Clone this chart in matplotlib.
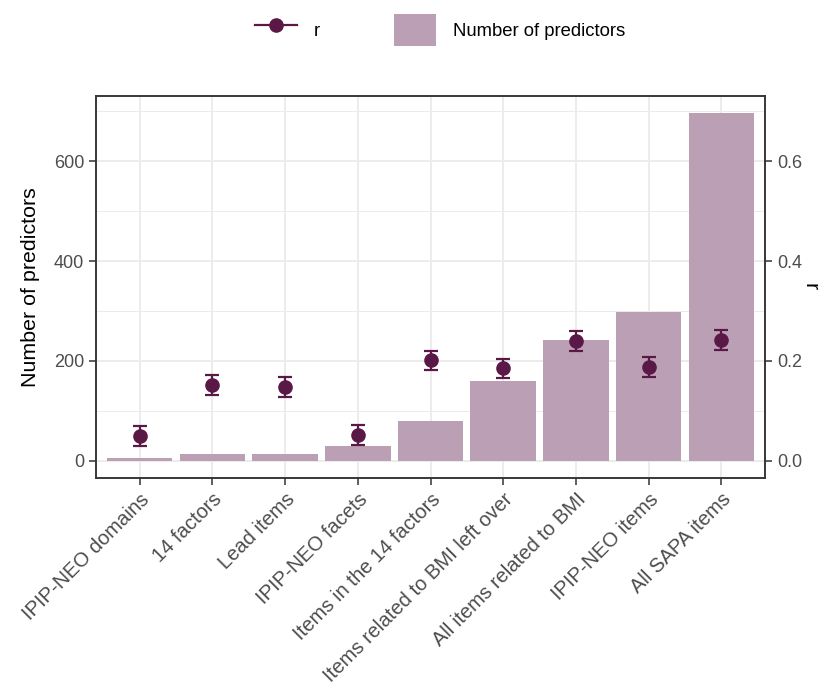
import numpy as np
import matplotlib
matplotlib.use("Agg")
import matplotlib.pyplot as plt
from matplotlib.lines import Line2D
from matplotlib.patches import Patch
from matplotlib.ticker import MultipleLocator, FormatStrFormatter

plt.rcParams['font.family'] = ['Liberation Sans', 'DejaVu Sans']

# data
labels = ['IPIP-NEO domains', '14 factors', 'Lead items', 'IPIP-NEO facets',
          'Items in the 14 factors', 'Items related to BMI left over',
          'All items related to BMI', 'IPIP-NEO items', 'All SAPA items']
n_pred = [5, 14, 14, 30, 80, 159, 242, 298, 696]
r_val = [0.050, 0.152, 0.148, 0.051, 0.201, 0.185, 0.240, 0.188, 0.242]
r_lo = [0.030, 0.132, 0.128, 0.031, 0.182, 0.165, 0.220, 0.168, 0.222]
r_hi = [0.070, 0.171, 0.168, 0.071, 0.220, 0.204, 0.259, 0.207, 0.261]

bar_col = '#BBA0B5'
pt_col = '#5A1846'
grid_col = '#EBEBEB'
txt_col = '#4D4D4D'

fig = plt.figure(figsize=(8.25, 6.92), dpi=100)
W = 765 - 96
ax = fig.add_axes([96/825, 1-478/692, W/825, (478-96)/692])
x = np.arange(len(labels))

ax.bar(x, n_pred, width=0.9, color=bar_col, zorder=2)

ymax = max(n_pred)
ax.set_ylim(-0.05*ymax, 1.05*ymax)
ax.set_xlim(-0.6, len(labels) - 0.4)
ax.yaxis.set_major_locator(MultipleLocator(200))
ax.yaxis.set_minor_locator(MultipleLocator(100))
ax.grid(True, which='major', color=grid_col, lw=1.3, zorder=0)
ax.grid(True, which='minor', axis='y', color=grid_col, lw=0.7, zorder=0)
ax.set_axisbelow(True)
ax.tick_params(which='minor', length=0)
ax.tick_params(which='major', length=5, width=1.1, color='#333333',
               labelsize=13, labelcolor=txt_col)
ax.set_xticks(x)
ax.set_xticklabels(labels, rotation=45, ha='right', va='top',
                   rotation_mode='anchor', fontsize=14.5)
ax.set_ylabel('Number of predictors', fontsize=15.4, color='black',
              ha='center', va='center')
ax.yaxis.set_label_coords((31 - 96)/W, 0.5)

ax2 = ax.twinx()
ax2.set_ylim(-0.05*ymax/1000, 1.05*ymax/1000)
ax2.yaxis.set_major_locator(MultipleLocator(0.2))
ax2.yaxis.set_major_formatter(FormatStrFormatter('%.1f'))
yerr = [np.array(r_val) - np.array(r_lo), np.array(r_hi) - np.array(r_val)]
ax2.errorbar(x, r_val, yerr=yerr, fmt='o', color=pt_col, ms=9.5,
             elinewidth=1.6, capsize=5.3, capthick=1.6, zorder=3)
ax2.tick_params(length=5, width=1.1, color='#333333', labelsize=13,
                labelcolor=txt_col)
ax2.set_ylabel('r', fontsize=15.4, rotation=-90, ha='center', va='center')
ax2.yaxis.set_label_coords((810 - 96)/W, 0.5)

for a in (ax, ax2):
    for s in a.spines.values():
        s.set_color('#333333')
        s.set_linewidth(1.1)

handles = [Line2D([0], [0], color=pt_col, marker='o', ms=9.5, lw=1.6),
           Patch(facecolor=bar_col, edgecolor='none')]
fig.legend(handles, ['r', 'Number of predictors'], loc='center',
           bbox_to_anchor=(440/825, 1-30/692), ncol=2, frameon=False,
           fontsize=13.3, handlelength=2.27, handleheight=2.27,
           handletextpad=0.92, columnspacing=4.0, borderpad=0)

fig.savefig('out.png', dpi=100)
